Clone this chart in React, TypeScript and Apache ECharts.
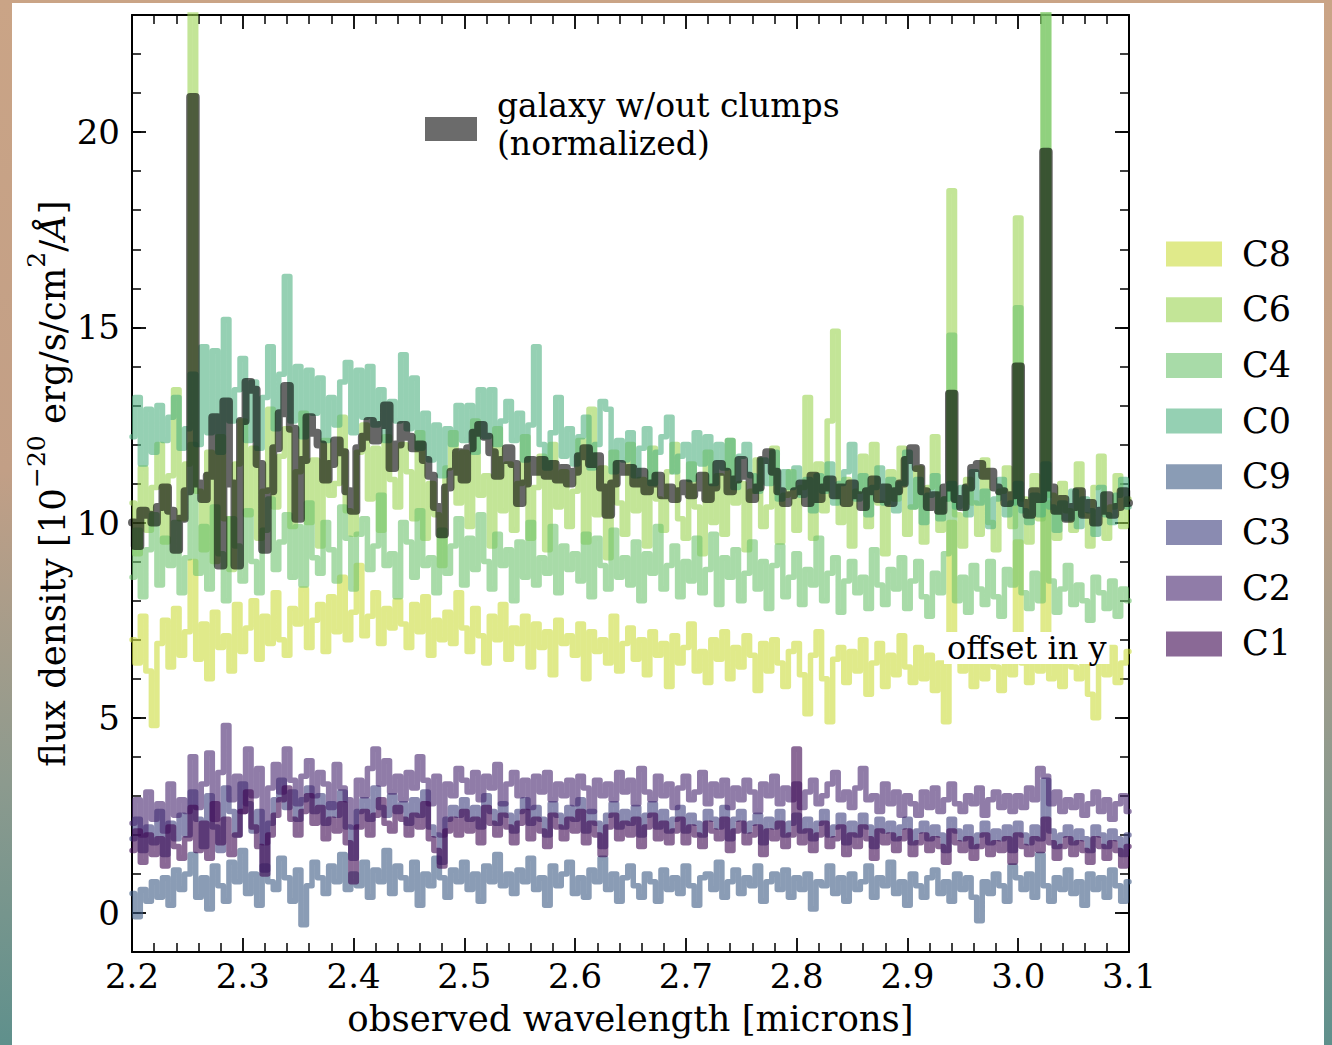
import React, { useEffect, useRef } from 'react';
import * as echarts from 'echarts';

// sampling of the spectra (microns)
const WAVE_START = 2.2;
const WAVE_STEP = 0.005;

const galaxy = [
  10.0, 9.4, 10.3, 10.2, 10.0, 10.4, 10.9, 10.3, 9.3, 10.1,
  10.8, 20.9, 11.0, 10.6, 11.2, 12.7, 8.9, 13.1, 11.0, 8.9,
  12.6, 13.6, 13.4, 11.5, 9.3, 10.8, 11.9, 12.8, 13.5, 12.4,
  10.1, 11.6, 12.7, 12.3, 12.0, 11.1, 11.5, 12.1, 11.8, 10.8,
  10.3, 11.9, 12.2, 12.6, 12.1, 12.5, 13.0, 11.4, 12.0, 12.5,
  12.2, 11.9, 12.0, 11.6, 11.2, 10.4, 9.7, 10.9, 11.3, 11.8,
  11.1, 11.9, 12.3, 12.5, 12.2, 11.8, 11.2, 11.6, 11.9, 11.5,
  10.5, 11.0, 11.6, 11.3, 11.6, 11.2, 11.5, 11.1, 11.4, 11.0,
  11.3, 11.7, 11.9, 11.5, 11.7, 10.9, 10.2, 11.0, 11.5, 11.3,
  11.4, 11.0, 11.3, 10.8, 11.0, 11.2, 10.7, 10.9, 10.6, 10.8,
  11.0, 10.7, 10.9, 11.2, 10.6, 10.9, 11.5, 11.3, 10.8, 11.1,
  11.6, 11.2, 10.6, 10.9, 11.6, 11.8, 11.3, 10.8, 10.5, 10.7,
  10.8, 11.0, 10.5, 11.2, 10.6, 10.9, 11.1, 10.7, 10.9, 10.5,
  11.0, 10.7, 10.4, 10.8, 11.1, 10.6, 10.9, 10.5, 10.8, 11.0,
  11.6, 11.9, 11.4, 10.8, 10.4, 10.7, 10.3, 10.9, 13.3, 10.6,
  10.4, 10.9, 11.4, 11.5, 11.2, 11.3, 10.9, 10.8, 10.5, 10.7,
  14.0, 10.5, 10.2, 10.8, 10.6, 19.5, 10.9, 10.3, 10.6, 10.1,
  10.4, 10.8, 10.2, 10.5, 10.0, 10.3, 10.7, 10.2, 10.4, 10.8, 10.5,
];

const c8 = [
  7.0, 6.4, 7.6, 6.2, 4.8, 6.9, 7.5, 6.3, 7.8, 6.6,
  7.2, 9.0, 6.5, 7.4, 6.0, 7.7, 6.8, 7.1, 6.2, 7.9,
  6.7, 7.3, 8.0, 6.5, 7.6, 6.9, 8.2, 7.0, 6.6, 7.8,
  7.4, 8.3, 6.8, 7.5, 7.9, 6.7, 8.1, 7.2, 8.6, 7.0,
  7.7, 8.9, 7.1, 7.6, 8.2, 6.9, 7.8, 7.3, 8.0, 7.4,
  6.8, 7.9, 7.2, 8.1, 6.6, 7.5, 7.0, 7.7, 6.9, 8.2,
  7.3, 6.7, 7.8, 7.1, 6.4, 7.6, 7.0, 7.9, 6.5, 7.3,
  6.9, 7.6, 6.3, 7.4, 6.8, 7.2, 6.1, 7.5, 6.9, 7.1,
  6.6, 7.4, 6.0, 7.2, 6.7, 7.0, 6.4, 7.6, 6.2, 6.9,
  7.3, 6.5, 7.0, 6.1, 7.2, 6.6, 6.9, 5.8, 7.1, 6.4,
  6.8, 7.4, 6.2, 6.7, 5.9, 7.0, 6.5, 7.2, 6.0, 6.8,
  6.3, 7.1, 6.6, 5.7, 6.9, 6.2, 7.0, 6.4, 5.8, 6.7,
  6.9, 6.1, 5.1, 6.6, 7.2, 6.0, 4.9, 6.5, 6.8, 5.9,
  6.7, 6.2, 7.0, 5.6, 6.4, 6.9, 5.8, 6.6, 6.1, 7.1,
  6.3, 5.9, 6.8, 6.0, 6.6, 5.7, 6.4, 4.9, 10.0, 6.5,
  6.2, 6.9, 5.8, 6.5, 6.0, 7.0, 6.3, 5.7, 6.7, 6.1,
  9.5, 6.4, 5.9, 6.8, 6.2, 10.5, 6.0, 6.6, 5.8, 6.9,
  6.3, 6.0, 6.7, 5.6, 5.0, 6.5, 6.1, 6.8, 5.9, 6.4, 6.7,
];

const c6 = [
  10.5, 9.2, 11.4, 9.8, 10.9, 12.0, 9.5, 11.2, 13.4, 10.1,
  11.5, 26.0, 10.8, 9.3, 11.8, 9.0, 12.2, 10.1, 8.8, 11.5,
  12.6, 10.2, 11.9, 9.6, 10.8, 12.9, 10.4, 11.7, 12.4, 9.9,
  11.3, 12.8, 10.0, 11.6, 9.4, 12.1, 10.7, 11.0, 12.7, 10.3,
  9.7, 11.8, 12.5, 10.6, 11.9, 9.8, 12.2, 11.1, 10.4, 12.0,
  11.3, 10.1, 12.3, 9.6, 11.0, 10.2, 8.9, 11.4, 12.3, 10.5,
  11.8, 9.9, 12.6, 10.7, 11.2, 9.4, 12.4, 10.3, 11.5, 9.8,
  11.0, 12.2, 9.6, 10.9, 11.7, 9.3, 12.0, 10.4, 11.3, 9.9,
  10.8, 12.1, 9.5, 12.9, 10.2, 11.4, 9.1, 11.8, 10.5, 9.7,
  12.0, 10.3, 11.1, 9.4, 11.9, 10.6, 9.8, 11.3, 12.0, 10.1,
  9.6, 11.5, 10.4, 9.2, 11.8, 10.0, 11.2, 9.7, 12.1, 10.5,
  11.0, 9.3, 10.8, 11.6, 9.9, 10.4, 11.9, 9.5, 10.7, 11.3,
  9.8, 10.9, 13.2, 9.6, 11.5, 10.3, 12.6, 14.9, 10.0, 11.1,
  9.4, 10.8, 11.7, 9.9, 12.0, 10.5, 9.2, 11.3, 10.6, 11.9,
  9.7, 10.4, 11.4, 9.5, 10.9, 12.2, 9.8, 10.6, 18.5, 10.2,
  9.4, 11.1, 10.5, 9.7, 11.6, 10.0, 9.3, 10.8, 11.4, 9.9,
  17.8, 10.6, 9.5, 11.2, 10.1, 26.0, 10.7, 9.6, 11.0, 10.3,
  9.8, 11.5, 10.2, 9.4, 10.9, 11.7, 9.6, 10.4, 11.2, 9.9, 10.6,
];

const c4 = [
  8.6, 9.8, 8.1, 9.3, 10.2, 8.4, 9.6, 8.9, 10.0, 8.2,
  9.1, 12.0, 8.7, 9.9, 8.3, 10.4, 9.2, 8.0, 10.1, 9.4,
  8.5, 10.3, 9.0, 8.2, 9.8, 10.6, 8.8, 9.5, 10.2, 8.6,
  9.9, 8.4, 10.5, 9.1, 8.7, 10.0, 9.3, 8.5, 10.4, 9.6,
  8.3, 9.7, 10.1, 8.8, 9.4, 10.7, 8.9, 9.2, 8.1, 10.0,
  9.5, 8.6, 10.3, 8.9, 9.1, 8.2, 9.8, 8.7, 9.4, 10.1,
  8.4, 9.6, 8.8, 10.2, 9.0, 8.3, 9.7, 8.9, 9.3, 8.0,
  9.5, 8.6, 10.0, 8.4, 9.1, 8.7, 9.9, 8.2, 9.4, 8.8,
  9.2, 8.5, 9.7, 8.1, 9.6, 8.9, 8.3, 9.8, 8.6, 9.1,
  8.4, 9.5, 8.0, 9.2, 8.7, 9.9, 8.3, 8.9, 9.4, 8.1,
  9.0, 8.5, 9.6, 8.2, 8.8, 9.7, 7.9, 9.1, 8.6, 9.3,
  8.0, 8.7, 9.5, 8.3, 9.0, 7.8, 8.9, 9.4, 8.1, 8.6,
  9.2, 7.9, 8.8, 8.4, 9.6, 8.0, 8.7, 9.1, 7.7, 8.5,
  9.0, 8.2, 8.6, 7.8, 9.3, 8.4, 7.9, 8.8, 8.3, 9.1,
  7.8, 8.5, 9.0, 8.1, 7.6, 8.7, 8.2, 9.2, 14.8, 8.0,
  8.6, 7.7, 8.9, 8.3, 7.9, 9.0, 8.1, 7.6, 8.8, 8.4,
  15.5, 8.2, 7.8, 8.7, 8.0, 26.0, 8.5, 7.7, 8.3, 8.9,
  7.9, 8.4, 8.0, 7.5, 8.6, 8.2, 7.8, 8.5, 7.6, 8.3, 8.0,
];

const c0 = [
  12.2, 13.2, 11.5, 12.9, 11.8, 13.0, 12.1, 12.7, 13.2, 11.9,
  12.4, 13.8, 12.0, 14.5, 12.3, 14.4, 11.8, 15.2, 12.6, 13.4,
  14.2, 12.1, 13.6, 11.9, 13.2, 14.5, 12.4, 13.8, 16.3, 12.6,
  14.0, 12.2, 13.9, 12.8, 13.7, 12.1, 13.2, 12.5, 13.6, 14.1,
  12.3, 13.9, 12.7, 14.0, 12.5, 13.4, 12.1, 13.1, 12.6, 14.3,
  12.4, 13.7, 11.9, 12.8, 11.6, 12.5, 11.2, 12.4, 12.0, 13.0,
  12.1, 13.0, 11.8, 13.4, 12.2, 13.4, 12.0, 12.6, 13.1, 12.1,
  12.8, 11.6, 12.5, 14.5, 12.0, 11.4, 12.3, 13.2, 11.7, 12.4,
  11.5, 12.2, 12.7, 11.4, 12.0, 13.1, 12.9, 11.3, 12.1, 11.6,
  12.3, 11.2, 11.9, 12.4, 11.0, 11.8, 12.2, 12.7, 11.3, 11.7,
  12.0, 11.1, 12.3, 11.5, 12.2, 11.0, 12.0, 11.4, 12.1, 10.9,
  11.7, 12.0, 11.2, 10.8, 11.6, 11.0, 11.8, 10.6, 11.3, 10.9,
  11.4, 10.7, 11.1, 10.3, 11.2, 10.8, 11.5, 10.5, 11.0, 11.3,
  12.0, 10.6, 11.2, 10.2, 10.9, 11.4, 10.5, 11.1, 10.3, 11.0,
  11.8, 10.4, 11.1, 10.0, 10.7, 11.2, 10.1, 10.6, 11.0, 10.4,
  10.9, 10.2, 11.3, 10.5, 10.8, 9.9, 10.6, 11.1, 10.2, 10.5,
  11.0, 10.3, 10.0, 10.7, 10.2, 11.5, 10.4, 9.8, 10.5, 10.1,
  10.8, 9.9, 10.6, 10.3, 9.7, 10.9, 10.2, 10.0, 10.7, 11.1, 10.4,
];

const c9 = [
  0.5, -0.1, 0.6, 0.3, 0.8, 0.4, 0.9, 0.2, 1.1, 0.6,
  1.0, 1.5, 0.4, 0.9, 0.1, 1.2, 0.7, 0.3, 1.3, 0.8,
  1.6, 0.5, 1.0, 0.2, 1.2, 0.8, 0.6, 1.4, 0.9, 0.3,
  1.1, -0.3, 0.7, 1.3, 0.9, 0.5, 1.2, 0.8, 1.5, 0.6,
  1.0, 0.7, 1.3, 0.4, 1.1, 0.8, 1.6, 0.5, 1.2, 0.9,
  0.6, 1.3, 0.2, 1.0, 0.7, 1.4, 0.9, 0.4, 1.1, 0.8,
  1.3, 0.6, 1.0, 0.3, 1.2, 0.8, 1.5, 0.7, 1.0, 0.5,
  1.1, 0.8, 1.4, 0.6, 0.9, 0.2, 1.2, 0.7, 1.0, 1.3,
  0.5, 0.9, 0.4, 1.1, 0.8, 1.4, 0.6, 1.0, 0.3, 0.9,
  1.2, 0.7, 0.4, 1.0, 0.8, 0.3, 1.1, 0.6, 0.9, 0.5,
  1.2, 0.7, 0.2, 0.9, 1.0, 0.6, 1.3, 0.4, 0.8, 1.1,
  0.5, 0.9, 0.7, 1.2, 0.3, 0.8, 1.0, 0.6, 1.1, 0.4,
  0.9, 0.6, 1.0, 0.1, 0.8, 0.7, 1.2, 0.5, 0.9, 0.3,
  1.0, 0.6, 0.8, 1.2, 0.4, 0.9, 0.7, 1.3, 0.5, 0.8,
  0.2, 1.0, 0.7, 0.4, 0.9, 1.1, 0.5, 0.8, 0.3, 1.0,
  0.6, 0.9, 0.4, -0.2, 0.8, 0.5, 1.0, 0.7, 0.3, 1.2,
  0.9, 0.6, 1.0, 0.4, 1.5, 0.7, 0.3, 0.9, 0.6, 1.1,
  0.5, 0.8, 0.2, 1.0, 0.6, 0.9, 0.4, 1.1, 0.7, 0.3, 0.8,
];

const c3 = [
  1.9, 2.4, 1.6, 2.2, 1.8, 2.6, 1.5, 2.3, 1.9, 2.5,
  2.0, 3.1, 2.4, 1.7, 3.0, 2.2, 1.6, 3.2, 2.6, 2.0,
  3.3, 2.8, 2.1, 2.6, 1.1, 2.3, 2.9, 3.4, 2.7, 3.1,
  2.4, 2.9, 3.2, 2.6, 3.0, 2.3, 2.8, 2.5, 3.1, 2.2,
  1.4, 2.6, 2.9, 2.4, 3.2, 2.7, 2.5, 3.0, 2.6, 2.8,
  2.3, 2.9, 2.5, 3.1, 2.2, 2.0, 1.3, 2.4, 2.7, 2.5,
  2.9, 2.4, 2.7, 2.2, 3.0, 2.6, 2.3, 2.8, 2.5, 2.1,
  2.6, 2.9, 2.3, 2.7, 2.4, 2.0, 2.8, 2.5, 2.2, 2.7,
  2.4, 2.9, 2.1, 2.6, 2.3, 1.7, 2.5, 2.8, 2.2, 2.6,
  2.3, 2.7, 2.0, 2.5, 2.8, 2.2, 2.6, 2.1, 2.4, 2.7,
  2.1, 2.5, 2.3, 2.0, 2.6, 2.4, 2.2, 2.7, 1.9, 2.4,
  2.6, 2.1, 2.3, 2.5, 1.8, 2.4, 2.2, 2.6, 2.0, 2.3,
  2.5, 2.1, 2.4, 1.9, 2.3, 2.6, 2.0, 2.2, 2.5, 1.8,
  2.3, 2.0, 2.5, 2.2, 1.7, 2.4, 2.1, 2.3, 1.9, 2.2,
  2.4, 1.8, 2.1, 2.3, 1.9, 2.2, 2.0, 1.6, 2.4, 2.1,
  1.9, 2.2, 1.7, 2.0, 2.3, 1.8, 2.1, 1.9, 2.2, 1.6,
  2.3, 2.0, 1.8, 2.2, 1.9, 3.4, 2.1, 1.7, 2.0, 2.2,
  1.8, 2.1, 1.9, 1.6, 2.2, 2.0, 1.7, 2.1, 1.9, 1.5, 2.0,
];

const c2 = [
  2.3, 2.9, 2.0, 3.1, 2.4, 2.8, 2.1, 3.3, 2.5, 2.9,
  2.6, 4.0, 2.7, 3.3, 4.1, 2.4, 3.6, 4.8, 2.9, 3.5,
  2.6, 4.2, 3.0, 3.7, 1.8, 3.2, 3.8, 3.1, 4.2, 3.4,
  2.8, 3.5, 3.9, 3.0, 3.6, 3.3, 2.7, 3.8, 3.2, 2.9,
  2.2, 3.4, 3.0, 3.7, 4.2, 3.3, 3.9, 3.1, 3.5, 2.9,
  3.6, 3.2, 4.0, 3.4, 2.8, 3.5, 2.0, 3.3, 3.0, 3.7,
  3.4, 3.1, 3.6, 2.9, 3.5, 3.2, 3.8, 2.8, 3.3, 3.6,
  3.0, 3.4, 2.7, 3.5, 3.1, 3.6, 2.9, 3.3, 3.0, 3.4,
  2.8, 3.5, 3.2, 2.6, 3.4, 3.0, 3.3, 2.9, 3.6, 3.1,
  3.4, 2.8, 3.7, 3.1, 2.9, 3.5, 3.0, 3.3, 2.7, 3.2,
  3.5, 2.9, 3.1, 3.6, 2.8, 3.3, 3.0, 3.4, 2.7, 3.2,
  2.9, 3.4, 3.1, 2.6, 3.3, 3.0, 3.5, 2.8, 3.2, 2.9,
  3.3, 2.7, 3.1, 3.4, 2.8, 3.0, 3.3, 3.6, 2.9, 3.1,
  2.7, 3.2, 3.7, 2.9, 3.0, 2.6, 3.3, 2.8, 3.1, 2.5,
  3.0, 2.8, 2.5, 3.1, 2.7, 3.2, 2.6, 2.9, 3.3, 2.8,
  2.6, 3.0, 2.8, 3.2, 2.5, 2.9, 3.1, 2.7, 3.0, 2.6,
  3.0, 2.7, 3.2, 2.9, 3.7, 3.5, 2.8, 3.1, 2.6, 2.9,
  2.7, 3.0, 2.5, 2.8, 3.1, 2.6, 2.9, 2.4, 2.8, 3.0, 2.6,
];

const c1 = [
  1.6, 2.1, 1.3, 2.0, 1.5, 1.9, 1.2, 2.2, 1.7, 1.4,
  1.9, 2.7, 1.6, 2.3, 1.4, 2.8, 1.8, 2.4, 1.5, 2.0,
  2.6, 3.1, 2.2, 1.7, 1.0, 2.0, 2.5, 2.9, 3.2, 2.4,
  2.0, 2.6, 3.0, 2.3, 2.7, 1.9, 2.4, 2.1, 2.8, 1.8,
  0.8, 2.2, 2.6, 2.0, 2.5, 2.9, 2.3, 2.1, 2.7, 2.4,
  2.0, 2.5, 2.2, 2.8, 1.9, 1.6, 1.2, 2.1, 2.4, 2.0,
  2.6, 2.1, 2.4, 1.8, 2.7, 2.3, 2.0, 2.5, 2.2, 1.8,
  2.3, 2.6, 1.9, 2.4, 2.1, 1.7, 2.5, 2.2, 1.9, 2.4,
  2.1, 2.6, 1.8, 2.3, 2.0, 1.5, 2.2, 2.5, 1.9, 2.3,
  2.0, 2.4, 1.7, 2.2, 2.5, 1.9, 2.3, 1.8, 2.1, 2.4,
  1.8, 2.2, 2.0, 1.7, 2.3, 2.1, 1.9, 2.4, 1.6, 2.1,
  2.3, 1.8, 2.0, 2.2, 1.5, 2.1, 1.9, 2.3, 1.7, 2.0,
  4.2, 1.8, 2.1, 1.6, 2.0, 2.3, 1.7, 1.9, 2.2, 1.5,
  2.0, 1.7, 2.2, 1.9, 1.4, 2.1, 1.8, 2.0, 1.6, 1.9,
  2.1, 1.5, 1.8, 2.0, 1.6, 1.9, 1.7, 1.3, 2.1, 1.8,
  1.6, 1.9, 1.4, 1.7, 2.0, 1.5, 1.8, 1.6, 1.9, 1.3,
  2.0, 1.7, 1.5, 1.9, 1.6, 2.4, 1.8, 1.4, 1.7, 1.9,
  1.5, 1.8, 1.6, 1.3, 1.9, 1.7, 1.4, 1.8, 1.6, 1.2, 1.7,
];

const CLUMP_NAMES = ['C8', 'C6', 'C4', 'C0', 'C9', 'C3', 'C2', 'C1'];
const CLUMP_VALUES = [c8, c6, c4, c0, c9, c3, c2, c1];
const CLUMP_COLORS = [
  'rgba(203,220,60,0.6)',
  'rgba(155,212,82,0.6)',
  'rgba(110,195,110,0.6)',
  'rgba(78,177,128,0.6)',
  'rgba(60,90,132,0.6)',
  'rgba(60,62,125,0.6)',
  'rgba(70,37,110,0.6)',
  'rgba(60,5,80,0.6)',
];
const GALAXY_NAME = 'galaxy w/out clumps';
const GALAXY_NAME_2 = '(normalized)';
const X_TITLE = 'observed wavelength [microns]';
const Y_MAJOR = [0, 5, 10, 15, 20];
const NOTE = 'offset in y';

const FONT = "'DejaVu Serif', 'Liberation Serif', serif";

function toPairs(vals: number[]) {
  return vals.map((v, i) => [+(WAVE_START + WAVE_STEP * i).toFixed(3), v]);
}

export default function App() {
  const ref = useRef<HTMLDivElement>(null);

  useEffect(() => {
    const chart = echarts.init(ref.current as HTMLDivElement, null, { renderer: 'svg' });
    const black = '#000';
    const gridL = 132, gridT = 15, gridW = 997, gridH = 937;

    const xCommon = {
      type: 'value',
      min: 2.2,
      max: 3.1,
      interval: 0.1,
      splitLine: { show: false },
      axisLine: { show: true, onZero: false, lineStyle: { color: black, width: 2 } },
      axisTick: { show: true, inside: true, length: 14, lineStyle: { color: black, width: 1.8 } },
      minorTick: { show: true, splitNumber: 5, length: 9, lineStyle: { color: black, width: 1.5 } },
    };
    const yMinor = {
      type: 'value',
      min: -1,
      max: 23,
      interval: 1,
      splitLine: { show: false },
      axisLine: { show: true, onZero: false, lineStyle: { color: black, width: 2 } },
      axisTick: { show: true, inside: true, length: 9, lineStyle: { color: black, width: 1.5 } },
      axisLabel: { show: false },
    };
    const yMajor = {
      type: 'value',
      min: -1,
      max: 23,
      splitLine: { show: false },
      axisLine: { show: false },
      axisTick: { show: true, inside: true, length: 14, customValues: Y_MAJOR, lineStyle: { color: black, width: 1.8 } },
    };

    const series: any[] = CLUMP_NAMES.map((name, k) => ({
      type: 'line',
      name,
      data: toPairs(CLUMP_VALUES[k]),
      step: 'middle',
      symbol: 'none',
      showSymbol: false,
      clip: true,
      silent: true,
      xAxisIndex: 0,
      yAxisIndex: 0,
      lineStyle: { color: CLUMP_COLORS[k], width: 5.5, cap: 'round', join: 'round' },
      z: 2 + k * 0.01,
    }));
    series.push({
      type: 'line',
      name: GALAXY_NAME,
      data: toPairs(galaxy),
      step: 'middle',
      symbol: 'none',
      showSymbol: false,
      clip: true,
      silent: true,
      xAxisIndex: 0,
      yAxisIndex: 0,
      lineStyle: { color: 'rgba(0,0,0,0.6)', width: 8, cap: 'round', join: 'round' },
      z: 3,
    });

    const legendX = 1166, legendTextX = 1242, legendY0 = 254, legendStep = 55.7;
    const graphics: any[] = [];
    CLUMP_NAMES.forEach((name, k) => {
      const cy = legendY0 + k * legendStep;
      graphics.push({
        type: 'rect',
        left: legendX,
        top: cy - 12.5,
        shape: { width: 56, height: 25 },
        style: { fill: CLUMP_COLORS[k] },
        z: 10,
      });
      graphics.push({
        type: 'text',
        left: legendTextX,
        top: cy - 18,
        style: { text: name, font: `35px ${FONT}`, fill: '#000' },
        z: 10,
      });
    });
    graphics.push({
      type: 'rect',
      left: 425,
      top: 117,
      shape: { width: 52, height: 24 },
      style: { fill: 'rgba(0,0,0,0.58)' },
      z: 10,
    });
    graphics.push({
      type: 'text',
      left: 497,
      top: 89,
      style: { text: GALAXY_NAME, font: `33px ${FONT}`, fill: '#000' },
      z: 10,
    });
    graphics.push({
      type: 'text',
      left: 497,
      top: 127,
      style: { text: GALAXY_NAME_2, font: `33px ${FONT}`, fill: '#000' },
      z: 10,
    });
    graphics.push({
      type: 'text',
      left: 944,
      top: 632,
      style: {
        text: NOTE,
        font: `32px ${FONT}`,
        fill: '#000',
        backgroundColor: '#fff',
        padding: [0, 3, 0, 3],
      },
      z: 10,
    });

    const option: any = {
      animation: false,
      backgroundColor: 'transparent',
      grid: { left: gridL, top: gridT, width: gridW, height: gridH, containLabel: false },
      xAxis: [
        {
          ...xCommon,
          position: 'bottom',
          axisLabel: {
            show: true,
            formatter: (v: number) => v.toFixed(1),
            fontFamily: FONT,
            fontSize: 34,
            color: black,
            margin: 7,
            showMinLabel: true,
            showMaxLabel: true,
          },
          name: X_TITLE,
          nameLocation: 'middle',
          nameGap: 48,
          nameTextStyle: { fontFamily: FONT, fontSize: 35.5, color: black },
        },
        {
          ...xCommon,
          position: 'top',
          axisLabel: { show: false },
        },
      ],
      yAxis: [
        {
          ...yMinor,
          position: 'left',
          name: '{a|flux density [10}{s|−20}{a| erg/s/cm}{s|2}{a|/}{i|Å}{a|]}',
          nameLocation: 'middle',
          nameGap: 62,
          nameTextStyle: {
            color: black,
            rich: {
              a: { fontFamily: FONT, fontSize: 35.5, color: black, lineHeight: 46, verticalAlign: 'bottom' },
              i: { fontFamily: FONT, fontSize: 35.5, fontStyle: 'italic', color: black, lineHeight: 46, verticalAlign: 'bottom' },
              s: { fontFamily: FONT, fontSize: 25, color: black, lineHeight: 26, verticalAlign: 'top' },
            },
          },
        },
        {
          ...yMajor,
          position: 'left',
          axisLabel: {
            show: true,
            customValues: Y_MAJOR,
            fontFamily: FONT,
            fontSize: 34,
            color: black,
            margin: 12,
          },
        },
        { ...yMinor, position: 'right' },
        { ...yMajor, position: 'right', axisLabel: { show: false } },
      ],
      series,
      graphic: graphics,
    };

    chart.setOption(option);
    return () => chart.dispose();
  }, []);

  return (
    <div
      style={{
        position: 'fixed',
        left: 0,
        top: 0,
        width: 1332,
        height: 1045,
        background: 'linear-gradient(180deg, #caa486 0%, #c29f86 45%, #8c9a8e 75%, #5f908c 100%)',
      }}
    >
      <div style={{ position: 'absolute', left: 12, top: 3, width: 1312, height: 1042, background: '#fff' }} />
      <div ref={ref} style={{ position: 'absolute', left: 0, top: 0, width: 1332, height: 1045 }} />
    </div>
  );
}
